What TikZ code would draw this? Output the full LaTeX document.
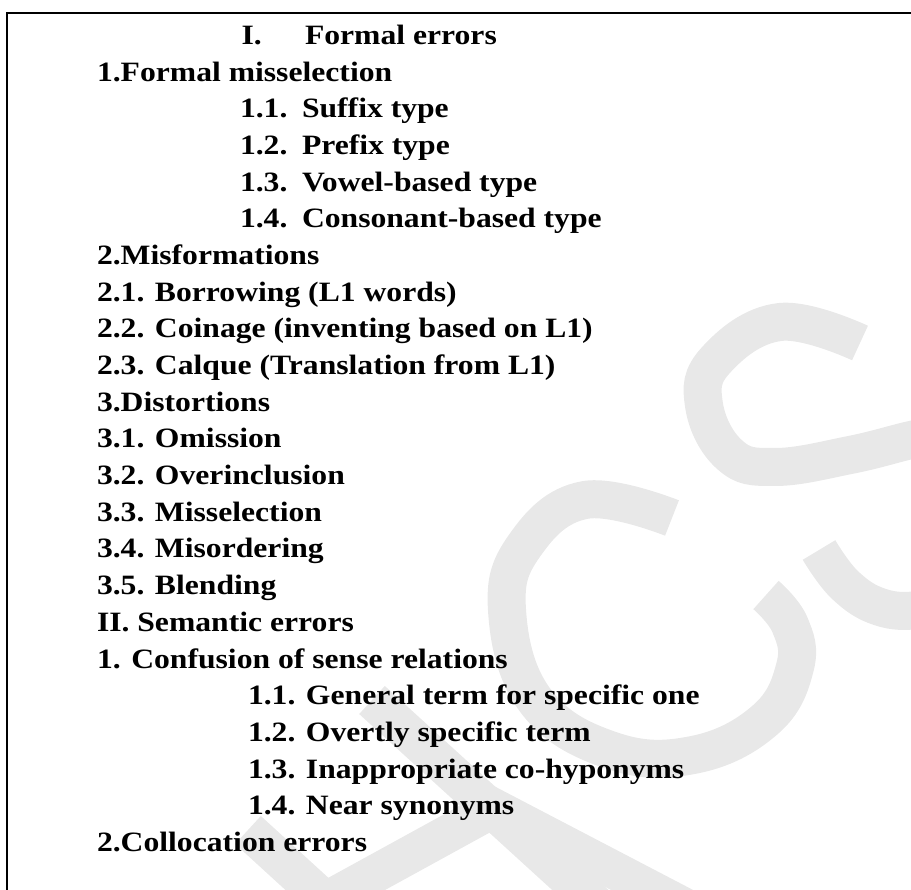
\documentclass[tikz,border=0pt]{standalone}
\usepackage{fontspec}
\setmainfont{Liberation Serif}[FakeStretch=1.13]
\begin{document}
\begin{tikzpicture}[x=1pt,y=-1pt,
  entry/.style={anchor=base west,inner sep=0pt,outer sep=0pt,
    font=\fontsize{28}{36}\selectfont\bfseries},
  wm/.style={draw=black!9,line width=38pt},
  frame/.style={draw=black,line width=2pt}]
\useasboundingbox (0,0) rectangle (911,890);
\clip (0,0) rectangle (911,890);

% light background mark
\draw[wm] plot[smooth,tension=0.7] coordinates
  {(672,518) (585,500) (525,545) (507,610) (535,700) (610,750)
   (693,755) (765,720) (795,667) (790,625) (766,595)};
\draw[wm] plot[smooth,tension=0.7] coordinates
  {(860,343) (780,322) (716,360) (704,405) (730,455) (775,467)
   (850,455) (911,440) (950,432)};
\draw[wm] plot[smooth,tension=0.7] coordinates
  {(819,550) (845,585) (880,607) (920,610) (960,600)};
\draw[wm] (372,700) -- (610,917);
\draw[wm] (248,830) -- (330,905);
\draw[wm] (300,915) -- (495,808) -- (700,915);

% outer frame
\draw[frame] (6.5,13) rectangle (930,910);

% section I
\node[entry] (n0) at (241.5,44.5) {I.};
\node[entry] (t0) at (305,44.5) {Formal errors};
\node[entry] (l1) at (97,81.2) {1.Formal misselection};
\node[entry] (n2) at (240,117.9) {1.1.};
\node[entry] (t2) at (302,117.9) {Suffix type};
\node[entry] (n3) at (240,154.5) {1.2.};
\node[entry] (t3) at (302,154.5) {Prefix type};
\node[entry] (n4) at (240,191.2) {1.3.};
\node[entry] (t4) at (302,191.2) {Vowel-based type};
\node[entry] (n5) at (240,227.9) {1.4.};
\node[entry] (t5) at (302,227.9) {Consonant-based type};
\node[entry] (l6) at (97,264.6) {2.Misformations};
\node[entry] (l7) at (97,301.3) {2.1. Borrowing (L1 words)};
\node[entry] (l8) at (97,337.9) {2.2. Coinage (inventing based on L1)};
\node[entry] (l9) at (97,374.6) {2.3. Calque (Translation from L1)};
\node[entry] (l10) at (97,411.3) {3.Distortions};
\node[entry] (l11) at (97,448.0) {3.1. Omission};
\node[entry] (l12) at (97,484.6) {3.2. Overinclusion};
\node[entry] (l13) at (97,521.3) {3.3. Misselection};
\node[entry] (l14) at (97,558.0) {3.4. Misordering};
\node[entry] (l15) at (97,594.7) {3.5. Blending};

% section II
\node[entry] (l16) at (97,631.4) {II. Semantic errors};
\node[entry] (l17) at (97,668.0) {1. Confusion of sense relations};
\node[entry] (l18) at (248,704.7) {1.1. General term for specific one};
\node[entry] (l19) at (248,741.4) {1.2. Overtly specific term};
\node[entry] (l20) at (248,778.1) {1.3. Inappropriate co-hyponyms};
\node[entry] (l21) at (248,814.7) {1.4. Near synonyms};
\node[entry] (l22) at (97,851.4) {2.Collocation errors};
\end{tikzpicture}
\end{document}
